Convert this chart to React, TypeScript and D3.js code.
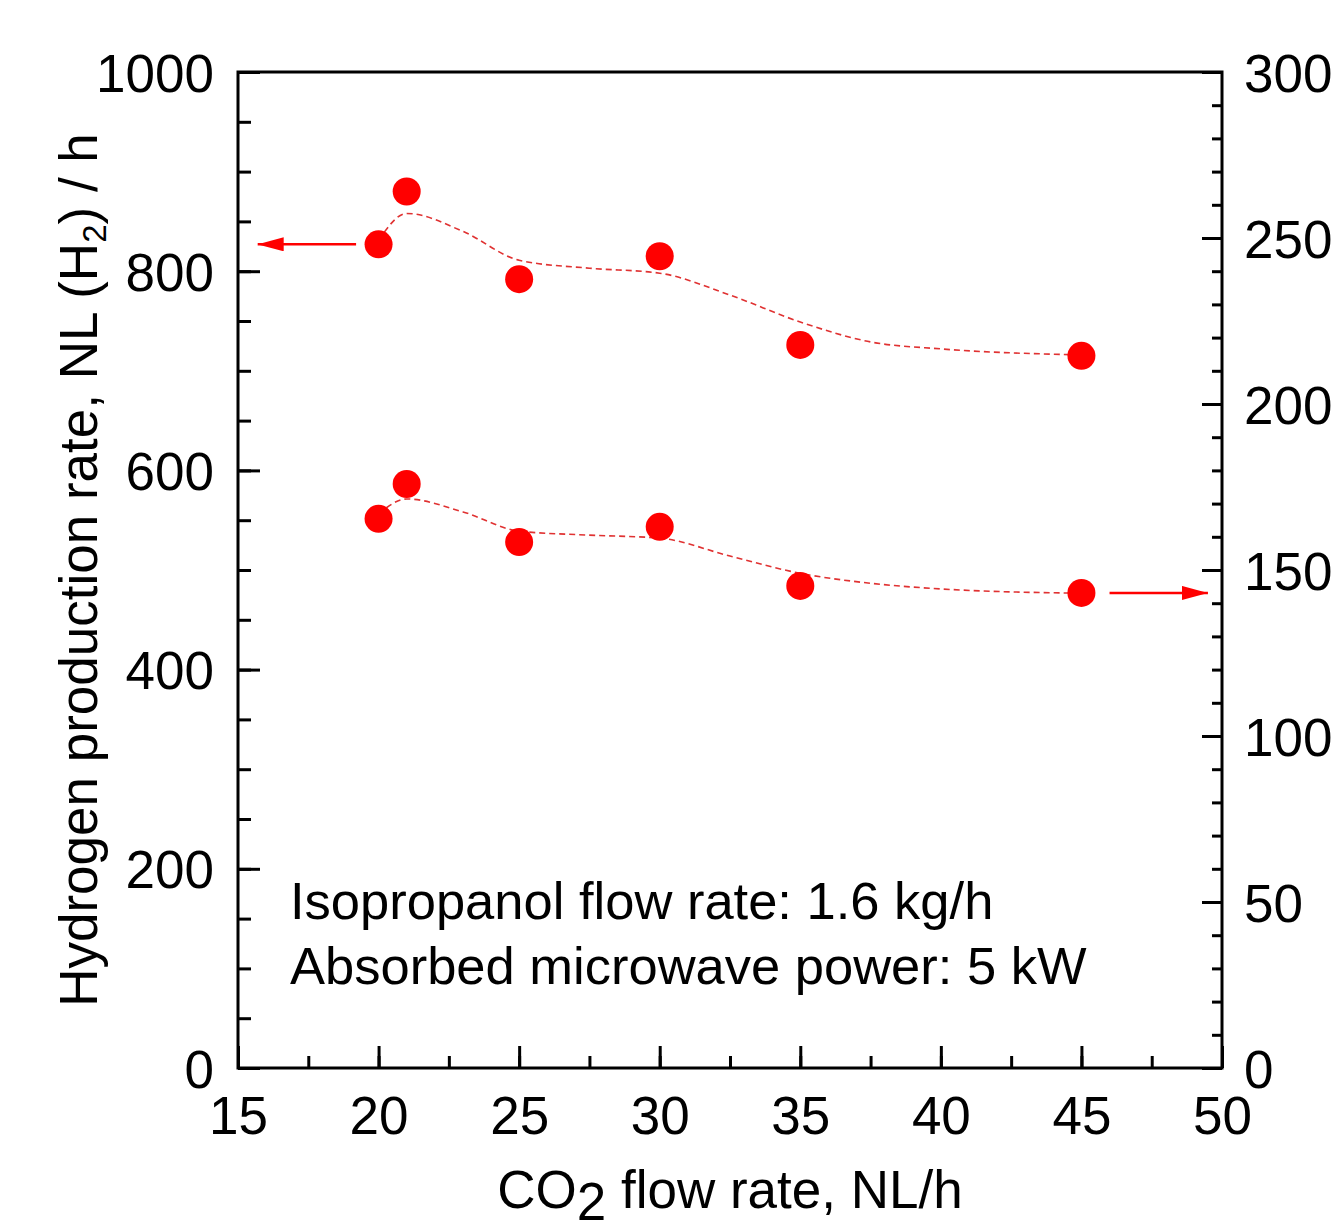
import React, { useEffect, useRef } from "react";
import * as d3 from "d3";

// measured points
const co2Flow = [20, 21, 25, 30, 35, 45];
const h2Rate = [827, 880, 792, 815, 726, 715]; // left axis
const rightSeries = [165.4, 175.9, 158.4, 163, 145.2, 143.1]; // right axis

// dashed trend curves
const fitFlow = [20, 21, 23, 25, 27.5, 30, 32.5, 35, 37.5, 40, 45];
const fitH2 = [831, 858, 840, 811, 803, 798, 776, 749, 729, 722, 716];
const fitRight = [166.9, 171.4, 167.5, 161.7, 160.5, 159.6, 154.2, 149, 146, 144.3, 143];

const xTicks = [15, 20, 25, 30, 35, 40, 45, 50];
const leftTicks = [0, 200, 400, 600, 800, 1000];
const rightTicks = [0, 50, 100, 150, 200, 250, 300];

const noteLines = ["Isopropanol flow rate: 1.6 kg/h", "Absorbed microwave power: 5 kW"];

const RED = "#ff0000";
const FONT = "'Liberation Sans', Arial, sans-serif";
const FS = 53;

const App = () => {
  const svgRef = useRef<SVGSVGElement | null>(null);
  const width = 1333;
  const height = 1221;

  useEffect(() => {
    const margin = { top: 72, right: 111, bottom: 153, left: 238 };
    const innerW = width - margin.left - margin.right;
    const innerH = height - margin.top - margin.bottom;

    const svg = d3.select(svgRef.current);
    svg.selectAll("*").remove();

    const x = d3.scaleLinear().domain([15, 50]).range([0, innerW]);
    const yL = d3.scaleLinear().domain([0, 1000]).range([innerH, 0]);
    const yR = d3.scaleLinear().domain([0, 300]).range([innerH, 0]);

    const g = svg.append("g").attr("transform", `translate(${margin.left},${margin.top})`);

    const styleAxis = (sel: any) => {
      sel.select(".domain").remove();
      sel.selectAll("line").attr("stroke", "#000").attr("stroke-width", 3);
      sel.selectAll("text").attr("font-family", FONT).attr("font-size", FS).attr("fill", "#000");
    };
    const fmt = d3.format("d");

    // minor ticks
    g.append("g")
      .call(d3.axisLeft(yL).tickValues(d3.range(0, 1001, 50)).tickSize(-13).tickFormat(() => ""))
      .call(styleAxis);
    g.append("g")
      .attr("transform", `translate(${innerW},0)`)
      .call(d3.axisRight(yR).tickValues(d3.range(0, 301, 10)).tickSize(-10).tickFormat(() => ""))
      .call(styleAxis);
    g.append("g")
      .attr("transform", `translate(0,${innerH})`)
      .call(d3.axisBottom(x).tickValues(d3.range(15, 50.1, 2.5)).tickSize(-12).tickFormat(() => ""))
      .call(styleAxis);

    // major ticks + labels
    g.append("g")
      .call(d3.axisLeft(yL).tickValues(leftTicks).tickSize(-22).tickPadding(24).tickFormat(fmt))
      .call(styleAxis)
      .selectAll("text")
      .attr("dy", "0.36em");
    g.append("g")
      .attr("transform", `translate(${innerW},0)`)
      .call(d3.axisRight(yR).tickValues(rightTicks).tickSize(-20).tickPadding(22).tickFormat(fmt))
      .call(styleAxis)
      .selectAll("text")
      .attr("dy", "0.36em");
    g.append("g")
      .attr("transform", `translate(0,${innerH})`)
      .call(d3.axisBottom(x).tickValues(xTicks).tickSize(-22).tickPadding(28).tickFormat(fmt))
      .call(styleAxis);

    // frame
    g.append("rect")
      .attr("width", innerW)
      .attr("height", innerH)
      .attr("fill", "none")
      .attr("stroke", "#000")
      .attr("stroke-width", 3);

    // dashed trend lines
    const lineL = d3
      .line<number>()
      .x((_, i) => x(fitFlow[i]))
      .y((d) => yL(d))
      .curve(d3.curveMonotoneX);
    const lineR = d3
      .line<number>()
      .x((_, i) => x(fitFlow[i]))
      .y((d) => yR(d))
      .curve(d3.curveMonotoneX);
    g.append("path")
      .attr("d", lineL(fitH2))
      .attr("fill", "none")
      .attr("stroke", "#e03232")
      .attr("stroke-width", 1.6)
      .attr("stroke-dasharray", "6 4");
    g.append("path")
      .attr("d", lineR(fitRight))
      .attr("fill", "none")
      .attr("stroke", "#e03232")
      .attr("stroke-width", 1.6)
      .attr("stroke-dasharray", "6 4");

    // points
    g.selectAll(".pL")
      .data(h2Rate)
      .join("circle")
      .attr("cx", (_, i) => x(co2Flow[i]))
      .attr("cy", (d) => yL(d))
      .attr("r", 14)
      .attr("fill", RED);
    g.selectAll(".pR")
      .data(rightSeries)
      .join("circle")
      .attr("cx", (_, i) => x(co2Flow[i]))
      .attr("cy", (d) => yR(d))
      .attr("r", 14)
      .attr("fill", RED);

    // arrows showing which axis each series uses
    svg
      .append("defs")
      .append("marker")
      .attr("id", "arrowHead")
      .attr("viewBox", "0 0 10 10")
      .attr("preserveAspectRatio", "none")
      .attr("refX", 10)
      .attr("refY", 5)
      .attr("markerWidth", 26)
      .attr("markerHeight", 14)
      .attr("markerUnits", "userSpaceOnUse")
      .attr("orient", "auto")
      .append("path")
      .attr("d", "M0,0L10,5L0,10Z")
      .attr("fill", RED);

    g.append("line")
      .attr("x1", x(19.2))
      .attr("x2", x(15.7))
      .attr("y1", yL(h2Rate[0]))
      .attr("y2", yL(h2Rate[0]))
      .attr("stroke", RED)
      .attr("stroke-width", 2.5)
      .attr("marker-end", "url(#arrowHead)");
    g.append("line")
      .attr("x1", x(46))
      .attr("x2", x(49.5))
      .attr("y1", yR(rightSeries[5]))
      .attr("y2", yR(rightSeries[5]))
      .attr("stroke", RED)
      .attr("stroke-width", 2.5)
      .attr("marker-end", "url(#arrowHead)");

    // annotation
    noteLines.forEach((t, i) => {
      g.append("text")
        .attr("x", x(16.85))
        .attr("y", yL(150) + i * 65)
        .attr("font-family", FONT)
        .attr("font-size", 52.5)
        .attr("fill", "#000")
        .text(t);
    });

    // x title
    const xt = svg
      .append("text")
      .attr("x", margin.left + innerW / 2)
      .attr("y", 1208)
      .attr("text-anchor", "middle")
      .attr("font-family", FONT)
      .attr("font-size", FS)
      .attr("fill", "#000");
    xt.append("tspan").text("CO");
    xt.append("tspan").attr("dy", 12).text("2");
    xt.append("tspan").attr("dy", -12).text(" flow rate, NL/h");

    // y title
    const yt = svg
      .append("text")
      .attr("transform", `translate(97,${margin.top + innerH / 2}) rotate(-90)`)
      .attr("text-anchor", "middle")
      .attr("font-family", FONT)
      .attr("font-size", FS)
      .attr("fill", "#000");
    yt.append("tspan").text("Hydrogen production rate, NL (H");
    yt.append("tspan").attr("dy", 9).attr("font-size", 33).text("2");
    yt.append("tspan").attr("dy", -9).text(") / h");
  }, []);

  return (
    <svg
      ref={svgRef}
      width={width}
      height={height}
      style={{ position: "absolute", left: 0, top: 0, background: "#fff" }}
    ></svg>
  );
};

export default App;
